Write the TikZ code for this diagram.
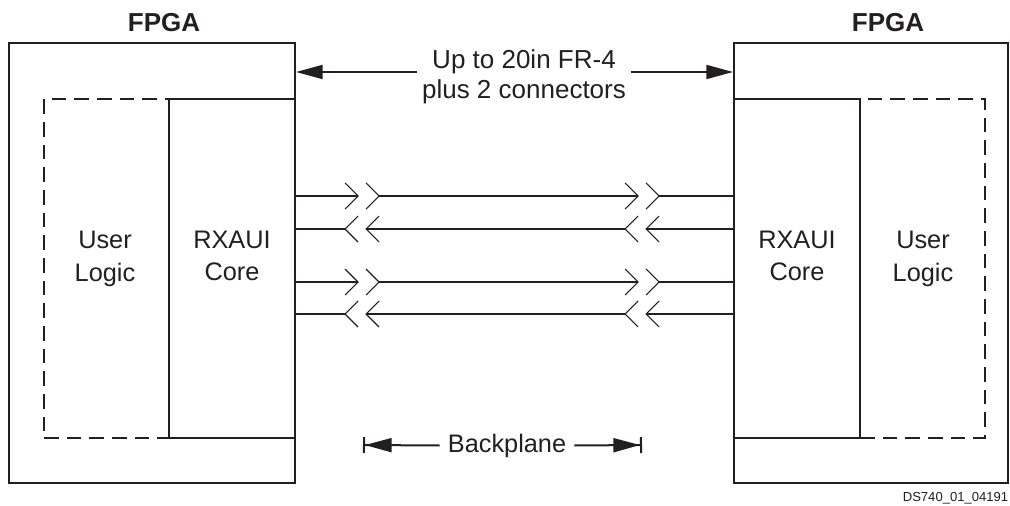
\documentclass[tikz,border=0pt]{standalone}
\usepackage{fontspec}
\setmainfont{Liberation Sans}
\usepackage{tikz}
\usetikzlibrary{arrows.meta, positioning, calc}
\definecolor{inkcol}{RGB}{35,31,32}

\tikzset{
  fpgabox/.style={draw=inkcol, line width=1.6pt, inner sep=0pt, minimum height=330pt},
  corebox/.style={draw=inkcol, line width=1.5pt, inner sep=0pt, minimum width=94.5pt, minimum height=254.25pt},
  userbox/.style={draw=inkcol, line width=1.5pt, dash pattern=on 11pt off 6pt, inner sep=0pt, minimum width=93.75pt, minimum height=254.25pt},
  lbl/.style={font=\fontsize{19}{24.5}\selectfont, text=inkcol, align=center},
  titlelbl/.style={font=\fontsize{19.5}{23}\selectfont\bfseries, text=inkcol},
  sigline/.style={draw=inkcol, line width=0.8pt},
  dimarrow/.style={draw=inkcol, line width=1.5pt, -{Triangle[length=20pt, width=10.5pt]}},
  bparrow/.style={draw=inkcol, line width=1.5pt, -{Triangle[length=20pt, width=10.5pt, sep=0pt]Bar[width=12pt]}}
}

\begin{document}
\begin{tikzpicture}[x=0.75pt, y=-0.75pt]
\useasboundingbox (0,0) rectangle (1010,506);
% FPGA outlines
\node[fpgabox, minimum width=214.5pt] (lfpga) at (152,263) {};
\node[fpgabox, minimum width=205.5pt] (rfpga) at (871,263) {};
\node[titlelbl] (lfpgalbl) at (164,22.5) {FPGA};
\node[titlelbl] (rfpgalbl) at (888,22.5) {FPGA};
% User logic (dashed) and RXAUI core blocks
\node[userbox] (luser) at (106.5,268.5) {};
\node[userbox] (ruser) at (922.5,268.5) {};
\node[corebox] (lcore) at (232,268.5) {};
\node[corebox] (rcore) at (797,268.5) {};
\node[lbl] (luserlbl) at (105,259) {User\\Logic};
\node[lbl] (lcorelbl) at (232,256) {RXAUI\\Core};
\node[lbl] (rcorelbl) at (797,256) {RXAUI\\Core};
\node[lbl] (ruserlbl) at (923,259) {User\\Logic};
% Span label
\node[lbl, font=\fontsize{19.5}{22.5}\selectfont] (span) at (524,76.5) {Up to 20in FR-4\\plus 2 connectors};
\draw[dimarrow] (span.west |- 0,72) -- (lfpga.east |- 0,72);
\draw[dimarrow] (span.east |- 0,72) -- (rfpga.west |- 0,72);
% Serial lanes with break marks
\foreach \y/\d/\a/\b/\c/\e in {196/1/358/379/638/659, 229/-1/345/366/625/646,
                               282/1/358/379/638/659, 314/-1/345/366/625/646} {
  \draw[sigline] (lcore.east |- 0,\y) -- (\a,\y);
  \draw[sigline] (\b,\y) -- (\c,\y);
  \draw[sigline] (\e,\y) -- (rcore.west |- 0,\y);
  \foreach \t in {\a,\b,\c,\e}
    \draw[sigline] (\t,\y) ++({-13*\d},-13) -- ++({13*\d},13) -- ++({-13*\d},13);
}
% Backplane
\coordinate (bpL) at (363,445);
\coordinate (bpR) at (642,445);
\node[lbl, inner xsep=6pt] (bp) at (507,445.5) {Backplane};
\draw[bparrow] (bp.west) -- (bpL);
\draw[bparrow] (bp.east) -- (bpR);
% Figure id
\node[font=\fontsize{9.8}{11}\selectfont, text=inkcol] (figid) at (955.5,498) {DS740\_01\_04191};
\end{tikzpicture}
\end{document}
